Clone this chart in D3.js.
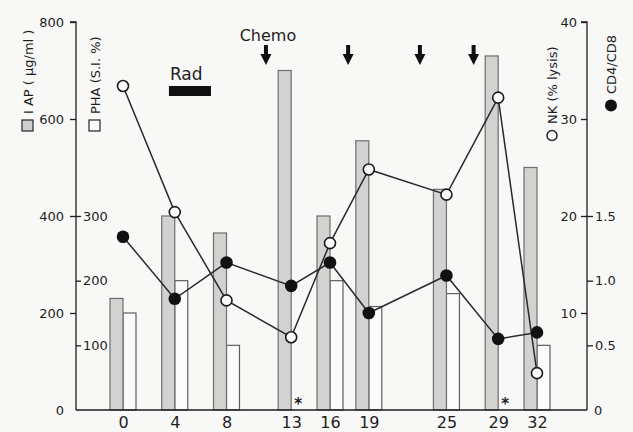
<!DOCTYPE html>
<html><head><meta charset="utf-8">
<script src="https://cdn.jsdelivr.net/npm/d3@7/dist/d3.min.js"></script>
<style>
html,body{margin:0;padding:0;background:#f8f8f6;}
svg{display:block;font-family:"DejaVu Sans",sans-serif;}
</style></head><body>
<svg id="c" width="633" height="432"></svg>
<script>
const days = [0, 4, 8, 13, 16, 19, 25, 29, 32];
const iap = [230, 400, 365, 700, 400, 555, 455, 730, 500];          // µg/ml
const pha = [150, 200, 100, null, 200, 160, 180, null, 100];       // S.I. %
const nk = [33.4, 20.4, 11.3, 7.5, 17.2, 24.8, 22.2, 32.2, 3.8];    // % lysis
const cd4cd8 = [1.34, 0.86, 1.14, 0.96, 1.14, 0.75, 1.04, 0.55, 0.60];
const missingDays = [13, 29];
const chemoDays = [11.05, 17.4, 22.95, 27.1];
const radPeriod = [3.55, 6.8];
const iapTicks = [0, 200, 400, 600, 800];
const phaTicks = [100, 200, 300];
const nkTicks = [0, 10, 20, 30, 40];
const cdTicks = [0.5, 1.0, 1.5];

const svg = d3.select("#c");
const x0 = 76, x1 = 587, yTop = 22, yBase = 410;
const x = d3.scaleLinear().domain([0, 32]).range([123, 537]);
const yIAP = d3.scaleLinear().domain([0, 800]).range([yBase, yTop]);
const yPHA = d3.scaleLinear().domain([0, 600]).range([yBase, yTop]);
const yNK = d3.scaleLinear().domain([0, 40]).range([yBase, yTop]);
const yCD = d3.scaleLinear().domain([0, 3]).range([yBase, yTop]);
const bw = 13;
const ink = "#1e1e1e";

// bars
const gBars = svg.append("g");
days.forEach((d, i) => {
  if (pha[i] != null) {
    gBars.append("rect").attr("x", x(d)).attr("y", yPHA(pha[i]))
      .attr("width", bw).attr("height", yBase - yPHA(pha[i]))
      .attr("fill", "#fbfbfb").attr("stroke", "#5e5e5e").attr("stroke-width", 1.2);
  }
  gBars.append("rect").attr("x", x(d) - bw).attr("y", yIAP(iap[i]))
    .attr("width", bw).attr("height", yBase - yIAP(iap[i]))
    .attr("fill", "#d2d2d0").attr("stroke", "#6e6e6e").attr("stroke-width", 1.2);
});

// axes
const axL = d3.axisLeft(yIAP).tickValues(iapTicks).tickSize(6).tickPadding(6);
const gL = svg.append("g").attr("transform", `translate(${x0},0)`).call(axL);
const axLP = d3.axisRight(yPHA).tickValues(phaTicks).tickSize(5).tickPadding(2);
const gLP = svg.append("g").attr("transform", `translate(${x0},0)`).call(axLP);
const axR = d3.axisLeft(yNK).tickValues(nkTicks).tickSize(6).tickPadding(4);
const gR = svg.append("g").attr("transform", `translate(${x1},0)`).call(axR);
const axRC = d3.axisRight(yCD).tickValues(cdTicks).tickFormat(d3.format(".1f")).tickSize(6).tickPadding(2);
const gRC = svg.append("g").attr("transform", `translate(${x1},0)`).call(axRC);
[gL, gLP, gR, gRC].forEach(g => {
  g.select(".domain").attr("stroke", ink).attr("stroke-width", 1.3);
  g.selectAll(".tick line").attr("stroke", ink).attr("stroke-width", 1.3);
  g.selectAll(".tick text").attr("fill", ink).attr("font-size", 13)
    .attr("font-family", "DejaVu Sans, sans-serif");
});
gL.select(".domain").attr("d", `M-6,${yTop}H0V${yBase}`);
gR.select(".domain").attr("d", `M-6,${yTop}H0V${yBase}`);
gLP.select(".domain").remove();
gRC.select(".domain").remove();
gR.selectAll(".tick").filter(d => d === 0).select("line").remove();
gR.selectAll(".tick").filter(d => d === 0).select("text").attr("x", 7).attr("text-anchor", "start");
gL.selectAll(".tick").filter(d => d === 0).select("line").remove();

// baseline
svg.append("line").attr("x1", x0).attr("x2", x1).attr("y1", yBase).attr("y2", yBase)
  .attr("stroke", ink).attr("stroke-width", 1.3);

// x labels
const axB = d3.axisBottom(x).tickValues(days).tickSize(0).tickPadding(7);
const gB = svg.append("g").attr("transform", `translate(0,${yBase})`).call(axB);
gB.select(".domain").remove();
gB.selectAll(".tick text").attr("font-size", 16).attr("fill", ink)
  .attr("font-family", "DejaVu Sans, sans-serif");

// asterisks
missingDays.forEach(d => {
  svg.append("text").attr("x", x(d) + 7).attr("y", yBase - 1).attr("text-anchor", "middle")
    .attr("font-size", 15).attr("font-weight", "bold").attr("fill", ink).text("*");
});

// lines
const lineNK = d3.line().x((d, i) => x(days[i])).y(d => yNK(d));
const lineCD = d3.line().x((d, i) => x(days[i])).y(d => yCD(d));
svg.append("path").attr("d", lineNK(nk)).attr("fill", "none").attr("stroke", "#2a2a2a").attr("stroke-width", 1.5);
svg.append("path").attr("d", lineCD(cd4cd8)).attr("fill", "none").attr("stroke", "#2a2a2a").attr("stroke-width", 1.5);
svg.append("g").selectAll("circle").data(nk).join("circle")
  .attr("cx", (d, i) => x(days[i])).attr("cy", d => yNK(d)).attr("r", 5.5)
  .attr("fill", "#fbfbfb").attr("stroke", "#1a1a1a").attr("stroke-width", 1.6);
svg.append("g").selectAll("circle").data(cd4cd8).join("circle")
  .attr("cx", (d, i) => x(days[i])).attr("cy", d => yCD(d)).attr("r", 6.3)
  .attr("fill", "#111");

// chemo arrows
svg.append("text").attr("x", x(chemoDays[0]) + 2).attr("y", 41).attr("text-anchor", "middle")
  .attr("font-size", 16).attr("fill", ink).text("Chemo");
chemoDays.forEach(d => {
  const cx = x(d);
  svg.append("path")
    .attr("d", `M${cx - 2},45 H${cx + 2} V54 H${cx + 5.5} L${cx},65 L${cx - 5.5},54 H${cx - 2} Z`)
    .attr("fill", "#111");
});
// rad
svg.append("rect").attr("x", x(radPeriod[0])).attr("y", 86).attr("width", x(radPeriod[1]) - x(radPeriod[0]))
  .attr("height", 10).attr("fill", "#111");
svg.append("text").attr("x", x(radPeriod[0]) + 1).attr("y", 80).attr("font-size", 17).attr("fill", ink).text("Rad");

// rotated axis titles
function title(cx, yBottom, sym, label) {
  const g = svg.append("g").attr("transform", `translate(${cx},${yBottom}) rotate(-90)`);
  if (sym === "gray") g.append("rect").attr("x", 0).attr("y", -6).attr("width", 11).attr("height", 11)
    .attr("fill", "#cfcfcf").attr("stroke", "#333").attr("stroke-width", 1.3);
  if (sym === "white") g.append("rect").attr("x", 0).attr("y", -6).attr("width", 11).attr("height", 11)
    .attr("fill", "#fbfbfb").attr("stroke", "#333").attr("stroke-width", 1.3);
  if (sym === "open") g.append("circle").attr("cx", 5.5).attr("cy", 0).attr("r", 5)
    .attr("fill", "#fbfbfb").attr("stroke", "#222").attr("stroke-width", 1.5);
  if (sym === "filled") g.append("circle").attr("cx", 5.5).attr("cy", 0).attr("r", 6)
    .attr("fill", "#111");
  g.append("text").attr("x", 17).attr("y", 5).attr("font-size", 13).attr("fill", ink).text(label);
}
title(28, 131, "gray", "I AP ( μg/ml )");
title(95, 131, "white", "PHA (S.I. %)");
title(552, 141, "open", "NK (% lysis)");
title(611, 111, "filled", "CD4/CD8");
</script>
</body></html>
